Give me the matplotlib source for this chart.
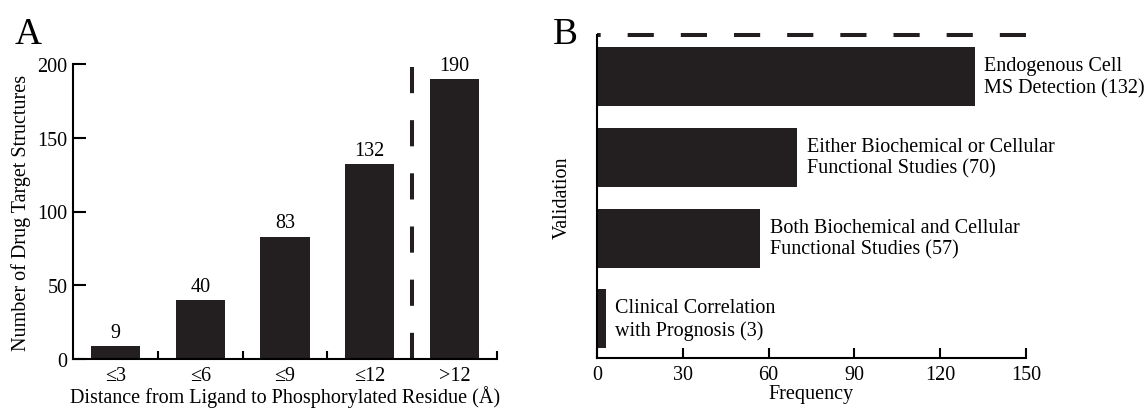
import matplotlib
matplotlib.use("Agg")
import matplotlib.pyplot as plt

plt.rcParams['font.family'] = ['Liberation Serif', 'DejaVu Serif']

# panel A data
dist_labels = ["≤3", "≤6", "≤9", "≤12", ">12"]
dist_counts = [9, 40, 83, 132, 190]

# panel B data (bottom to top)
valid_labels = ["Clinical Correlation\nwith Prognosis (3)",
                "Both Biochemical and Cellular\nFunctional Studies (57)",
                "Either Biochemical or Cellular\nFunctional Studies (70)",
                "Endogenous Cell\nMS Detection (132)"]
valid_counts = [3, 57, 70, 132]

bar_color = "#231f20"
fs = 14.5

fig = plt.figure(figsize=(11.47, 4.10), dpi=100)

# ---- panel A ----
axA = fig.add_axes([73/1147, 50/410, (497-73)/1147, (360-65)/410])
pos = list(range(len(dist_counts)))
axA.bar(pos, dist_counts, width=0.58, color=bar_color)
for x, v in zip(pos, dist_counts):
    axA.annotate(str(v), (x, v), xytext=(0, 3), textcoords="offset points",
                 ha="center", va="bottom", fontsize=fs)
# dashed separator before the last group
axA.plot([3.5, 3.5], [0, 198], color=bar_color, lw=2.9, dashes=(6.5, 6.7))
axA.set_xlim(-0.5, 4.5)
axA.set_ylim(0, 200)
axA.set_xticks(pos)
axA.set_xticklabels(dist_labels)
axA.set_xticks([0.5, 1.5, 2.5, 3.5, 4.5], minor=True)
axA.tick_params(axis="x", which="major", length=0, pad=5, labelsize=fs)
axA.tick_params(axis="x", which="minor", direction="in", length=6, width=1.5)
axA.set_yticks([0, 50, 100, 150, 200])
axA.tick_params(axis="y", direction="in", length=9, width=1.5, labelsize=fs, pad=4)
for s in ["top", "right"]:
    axA.spines[s].set_visible(False)
for s in ["left", "bottom"]:
    axA.spines[s].set_linewidth(1.5)
axA.set_xlabel("Distance from Ligand to Phosphorylated Residue (Å)", fontsize=fs, labelpad=0)
axA.set_ylabel("Number of Drug Target Structures", fontsize=fs)
axA.yaxis.set_label_coords(-0.1, 0.5)

# ---- panel B ----
axB = fig.add_axes([597/1147, 51/410, (1026-597)/1147, (359-36)/410])
ypos = list(range(len(valid_counts)))
axB.barh(ypos, valid_counts, height=0.73, color=bar_color)
for y, v, lab in zip(ypos, valid_counts, valid_labels):
    axB.annotate(lab, (v, y), xytext=(7, 0), textcoords="offset points",
                 ha="left", va="center", fontsize=fs, linespacing=1.2)
axB.set_xlim(0, 150)
axB.set_ylim(-0.483, 3.514)
axB.plot([150, 0], [3.514, 3.514], color=bar_color, lw=2.9, dashes=(6.5, 6.7),
         clip_on=False)
axB.set_xticks([0, 30, 60, 90, 120, 150])
axB.tick_params(axis="x", direction="in", length=7, width=1.5, labelsize=fs, pad=5)
axB.set_yticks([])
for s in ["top", "right"]:
    axB.spines[s].set_visible(False)
for s in ["left", "bottom"]:
    axB.spines[s].set_linewidth(1.5)
axB.set_xlabel("Frequency", fontsize=fs, labelpad=0)
axB.set_ylabel("Validation", fontsize=fs)
axB.yaxis.set_label_coords(-0.058, 0.5)

fig.text(15/1147, 1 - 44/410, "A", fontsize=27, ha="left", va="baseline")
fig.text(553/1147, 1 - 44/410, "B", fontsize=27, ha="left", va="baseline")

fig.savefig("out.png", dpi=100)
